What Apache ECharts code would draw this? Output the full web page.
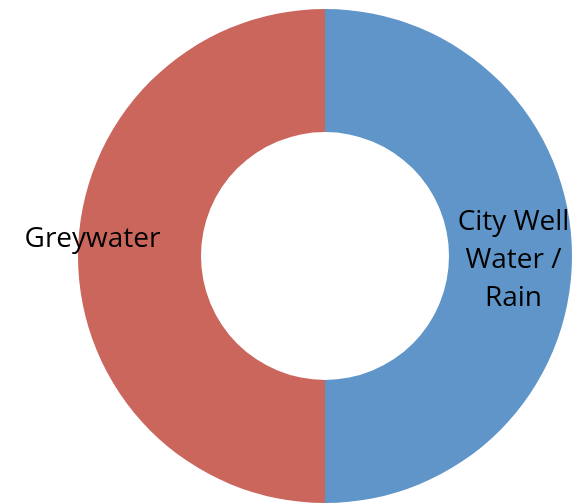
<!DOCTYPE html>
<html>
<head>
<meta charset="utf-8">
<script src="https://cdn.jsdelivr.net/npm/echarts@6/dist/echarts.min.js"></script>
<style>
  html, body { margin: 0; padding: 0; background: #fff; }
  #pie { width: 575px; height: 503px; }
</style>
</head>
<body>
<div id="pie"></div>
<script>
const categories = ['City Well\nWater /\nRain', 'Greywater'];
const values = [50, 50];
const colors = ['#5F95C8', '#CB665D'];
// label nudges so the text sits where the original put it
const labelOffsets = [[0, 4], [-44, -17]];

const data = categories.map((name, i) => ({
  name,
  value: values[i],
  itemStyle: { color: colors[i] },
  label: { offset: labelOffsets[i] },
}));

const chart = echarts.init(document.getElementById('pie'));
chart.setOption({
  animation: false,
  series: [
    {
      type: 'pie',
      center: [325, 256],
      radius: [124, 247],
      startAngle: 90,
      clockwise: true,
      silent: true,
      label: {
        show: true,
        position: 'inside',
        color: '#000',
        fontFamily: 'Open Sans',
        fontSize: 28,
        lineHeight: 38,
        formatter: '{b}',
      },
      labelLine: { show: false },
      itemStyle: { borderWidth: 0 },
      data,
    },
  ],
});
</script>
</body>
</html>
